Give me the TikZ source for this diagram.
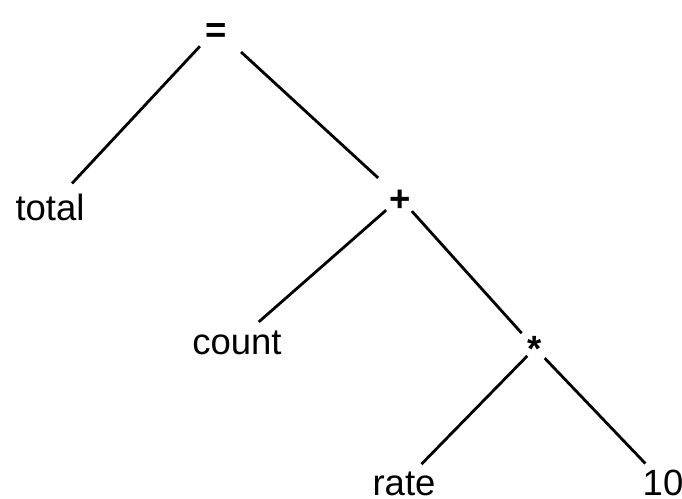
\documentclass[tikz,border=0pt]{standalone}
\usepackage{fontspec}
\setmainfont{Liberation Sans}
\usetikzlibrary{positioning}
\tikzset{
    symbol/.style={inner sep=0pt, text height=26.3pt, text depth=0pt, font=\fontsize{36.5}{40}\selectfont},
    operator/.style={symbol, font=\fontsize{36.5}{40}\selectfont\bfseries},
    branch/.style={line width=2.8pt, draw=black}
}
\begin{document}
\begin{tikzpicture}[x=1pt, y=1pt, on grid]
        \useasboundingbox (0,0) rectangle (682,-498);

        % Operatori
        \node (eq) [operator] at (216,-29) {=};
        \node (plus) [operator, below right=169pt and 184pt of eq] {+};
        \node (star) [operator, below right=150pt and 135pt of plus] {*};

        % Foglie
        \node (total) [symbol, below left=178pt and 166pt of eq] {total};
        \node (count) [symbol, below left=143pt and 163pt of plus] {count};
        \node (rate) [symbol, below left=134pt and 131pt of star] {rate};
        \node (ten) [symbol, below right=134pt and 128pt of star] {10};

        % Rami
        \draw [branch, shorten <=23.6pt, shorten >=32.3pt] (eq.center) -- (total.center);
        \draw [branch, shorten <=34pt, shorten >=29.7pt] (eq.center) -- (plus.center);
        \draw [branch, shorten <=18.4pt, shorten >=29pt] (plus.center) -- (count.center);
        \draw [branch, shorten <=17.7pt, shorten >=19.9pt] (plus.center) -- (star.center);
        \draw [branch, shorten <=11pt, shorten >=25pt] (star.center) -- (rate.center);
        \draw [branch, shorten <=14pt, shorten >=25.5pt] (star.center) -- (ten.center);

    \end{tikzpicture}
\end{document}
